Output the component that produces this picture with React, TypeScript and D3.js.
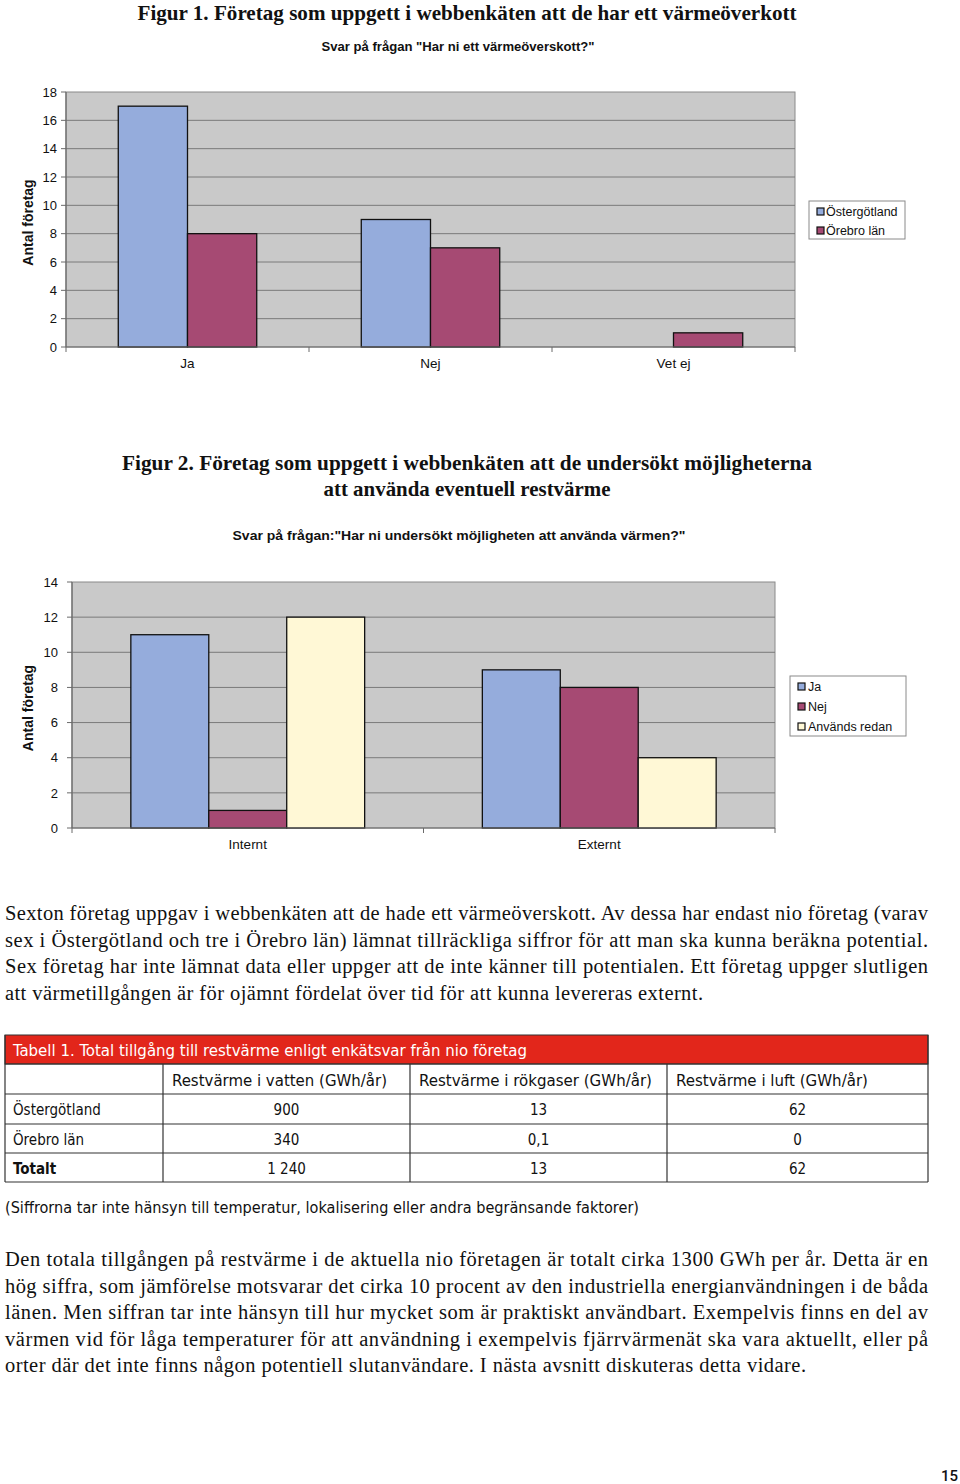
import React from "react";
import * as d3 from "d3";

// ---------- Data ----------
const fig1Title = "Figur 1. Företag som uppgett i webbenkäten att de har ett värmeöverkott";
const fig1Subtitle = 'Svar på frågan "Har ni ett värmeöverskott?"';
const fig1Categories = ["Ja", "Nej", "Vet ej"];
const fig1Series = ["Östergötland", "Örebro län"];
const fig1Ostergotland = [17, 9, 0];
const fig1Orebro = [8, 7, 1];
const fig1Ticks = [0, 2, 4, 6, 8, 10, 12, 14, 16, 18];

const fig2TitleLines = [
  "Figur 2. Företag som uppgett i webbenkäten att de undersökt möjligheterna",
  "att använda eventuell restvärme",
];
const fig2Subtitle = 'Svar på frågan:"Har ni undersökt möjligheten att använda värmen?"';
const fig2Categories = ["Internt", "Externt"];
const fig2Series = ["Ja", "Nej", "Används redan"];
const fig2Ja = [11, 9];
const fig2Nej = [1, 8];
const fig2Anvands = [12, 4];
const fig2Ticks = [0, 2, 4, 6, 8, 10, 12, 14];

const yAxisLabel = "Antal företag";

const para1 = [
  "Sexton företag uppgav i webbenkäten att de hade ett värmeöverskott. Av dessa har endast nio företag (varav",
  "sex i Östergötland och tre i Örebro län) lämnat tillräckliga siffror för att man ska kunna beräkna potential.",
  "Sex företag har inte lämnat data eller uppger att de inte känner till potentialen. Ett företag uppger slutligen",
  "att värmetillgången är för ojämnt fördelat över tid för att kunna levereras externt.",
];

const tableTitle = "Tabell 1. Total tillgång till restvärme enligt enkätsvar från nio företag";
const tableColumns = ["Restvärme i vatten (GWh/år)", "Restvärme i rökgaser (GWh/år)", "Restvärme i luft (GWh/år)"];
const tableRowLabels = ["Östergötland", "Örebro län", "Totalt"];
const tableVatten = ["900", "340", "1 240"];
const tableRokgaser = ["13", "0,1", "13"];
const tableLuft = ["62", "0", "62"];
const tableNote = "(Siffrorna tar inte hänsyn till temperatur, lokalisering eller andra begränsande faktorer)";

const para2 = [
  "Den totala tillgången på restvärme i de aktuella nio företagen är totalt cirka 1300 GWh per år. Detta är en",
  "hög siffra, som jämförelse motsvarar det cirka 10 procent av den industriella energianvändningen i de båda",
  "länen. Men siffran tar inte hänsyn till hur mycket som är praktiskt användbart. Exempelvis finns en del av",
  "värmen vid för låga temperaturer för att användning i exempelvis fjärrvärmenät ska vara aktuellt, eller på",
  "orter där det inte finns någon potentiell slutanvändare. I nästa avsnitt diskuteras detta vidare.",
];
const pageNumber = "15";

// ---------- Styles ----------
const BLUE = "#95acdc";
const PLUM = "#a64a73";
const CREAM = "#fff8d6";
const PLOT_BG = "#c9c9c9";
const GRID = "#7a7a7a";
const RED = "#e2261b";
const SANS = "'Liberation Sans', Arial, sans-serif";
const SERIF = "'Liberation Serif', 'Times New Roman', serif";
const COND = "'DejaVu Sans Condensed', 'Liberation Sans Narrow', sans-serif";

type ChartProps = {
  left: number; right: number; top: number; bottom: number;
  categories: string[];
  series: string[];
  values: number[][];
  colors: string[];
  ticks: number[];
  tickLabelX: number;
  yLabelX: number;
  legend: { x: number; y: number; w: number; h: number; swX: number; textX: number; rowY: number[] };
};

function BarChart(p: ChartProps) {
  const yMax = p.ticks[p.ticks.length - 1];
  const y = d3.scaleLinear().domain([0, yMax]).range([p.bottom, p.top]);
  const x0 = d3.scaleBand<string>().domain(p.categories).range([p.left, p.right]).padding(0);
  const x1 = d3.scaleBand<string>().domain(p.series).range([0, x0.bandwidth()]).paddingInner(0).paddingOuter(0.755);
  const catEdges = p.categories.map((c) => x0(c)!).concat([p.right]);
  return (
    <g>
      <rect x={p.left} y={p.top} width={p.right - p.left} height={p.bottom - p.top} fill={PLOT_BG} stroke="#8a8a8a" strokeWidth={1} />
      {p.ticks.map((t) => (
        <g key={t}>
          {t > 0 && t < yMax && <line x1={p.left} x2={p.right} y1={y(t)} y2={y(t)} stroke={GRID} strokeWidth={1} />}
          <line x1={p.left - 5} x2={p.left} y1={y(t)} y2={y(t)} stroke="#6a6a6a" strokeWidth={1} />
          <text x={p.tickLabelX} y={y(t)} dy="0.36em" textAnchor="end" fontFamily={SANS} fontSize={13} fill="#111">{t}</text>
        </g>
      ))}
      <line x1={p.left} x2={p.left} y1={p.top} y2={p.bottom} stroke="#6a6a6a" strokeWidth={1.2} />
      {p.series.map((s, si) =>
        p.categories.map((c, ci) => {
          const v = p.values[si][ci];
          if (v <= 0) return null;
          const bx = x0(c)! + x1(s)!;
          return (
            <rect key={s + c} x={bx} y={y(v)} width={x1.bandwidth()} height={y(0) - y(v)}
              fill={p.colors[si]} stroke="#111" strokeWidth={1.3} />
          );
        })
      )}
      <line x1={p.left} x2={p.right} y1={p.bottom} y2={p.bottom} stroke="#6a6a6a" strokeWidth={1.2} />
      {catEdges.map((e, i) => (
        <line key={i} x1={e} x2={e} y1={p.bottom} y2={p.bottom + 5} stroke="#6a6a6a" strokeWidth={1} />
      ))}
      {p.categories.map((c) => (
        <text key={c} x={x0(c)! + x0.bandwidth() / 2} y={p.bottom + 21} textAnchor="middle" fontFamily={SANS} fontSize={13.5} fill="#111">{c}</text>
      ))}
      <text transform={`translate(${p.yLabelX},${(p.top + p.bottom) / 2 + 3}) rotate(-90)`} textAnchor="middle"
        fontFamily={SANS} fontWeight="bold" fontSize={14} fill="#111">{yAxisLabel}</text>
      <rect x={p.legend.x} y={p.legend.y} width={p.legend.w} height={p.legend.h} fill="#fff" stroke="#8a8a8a" strokeWidth={1} />
      {p.series.map((s, si) => (
        <g key={s}>
          <rect x={p.legend.swX} y={p.legend.rowY[si] - 8} width={7} height={7} fill={p.colors[si]} stroke="#111" strokeWidth={1.2} />
          <text x={p.legend.textX} y={p.legend.rowY[si]} fontFamily={SANS} fontSize={12.5} fill="#111">{s}</text>
        </g>
      ))}
    </g>
  );
}

function Justified({ lines, x, y0, lh, width, lastFree }: { lines: string[]; x: number; y0: number; lh: number; width: number; lastFree: number }) {
  return (
    <g>
      {lines.map((l, i) => {
        const last = i === lines.length - 1;
        return (
          <text key={i} x={x} y={y0 + i * lh} fontFamily={SERIF} fontSize={20.5} fill="#111"
            textLength={last ? lastFree : width} lengthAdjust="spacing">{l}</text>
        );
      })}
    </g>
  );
}

export default function App() {
  const colX = [5, 163, 410, 667, 928];
  const rowY = [1064, 1094, 1124, 1153, 1182];
  const colData = [tableVatten, tableRokgaser, tableLuft];
  const headerWidths = [215, 233, 192];
  return (
    <svg width={960} height={1484} style={{ position: "absolute", left: 0, top: 0, display: "block", background: "#fff" }}>
      {/* Figure 1 */}
      <text x={467} y={20} textAnchor="middle" fontFamily={SERIF} fontWeight="bold" fontSize={21} fill="#111"
        textLength={659} lengthAdjust="spacingAndGlyphs">{fig1Title}</text>
      <text x={458} y={51} textAnchor="middle" fontFamily={SANS} fontWeight="bold" fontSize={13} fill="#111"
        textLength={273} lengthAdjust="spacingAndGlyphs">{fig1Subtitle}</text>
      <BarChart left={66} right={795} top={92} bottom={347}
        categories={fig1Categories} series={fig1Series}
        values={[fig1Ostergotland, fig1Orebro]} colors={[BLUE, PLUM]}
        ticks={fig1Ticks} tickLabelX={57} yLabelX={33}
        legend={{ x: 809, y: 201, w: 96, h: 38, swX: 817, textX: 826, rowY: [216, 235] }} />

      {/* Figure 2 */}
      <text x={467} y={470} textAnchor="middle" fontFamily={SERIF} fontWeight="bold" fontSize={21} fill="#111"
        textLength={690} lengthAdjust="spacingAndGlyphs">{fig2TitleLines[0]}</text>
      <text x={467} y={496} textAnchor="middle" fontFamily={SERIF} fontWeight="bold" fontSize={21} fill="#111"
        textLength={287} lengthAdjust="spacingAndGlyphs">{fig2TitleLines[1]}</text>
      <text x={459} y={540} textAnchor="middle" fontFamily={SANS} fontWeight="bold" fontSize={13} fill="#111"
        textLength={453} lengthAdjust="spacingAndGlyphs">{fig2Subtitle}</text>
      <BarChart left={72} right={775} top={582} bottom={828}
        categories={fig2Categories} series={fig2Series}
        values={[fig2Ja, fig2Nej, fig2Anvands]} colors={[BLUE, PLUM, CREAM]}
        ticks={fig2Ticks} tickLabelX={58} yLabelX={33}
        legend={{ x: 790, y: 676, w: 116, h: 60, swX: 798, textX: 808, rowY: [691, 711, 731] }} />

      {/* Paragraph 1 */}
      <Justified lines={para1} x={5} y0={920} lh={26.5} width={923} lastFree={698} />

      {/* Table */}
      <rect x={5} y={1035} width={923} height={29} fill={RED} stroke="#333" strokeWidth={1} />
      <text x={13} y={1056} fontFamily={COND} fontSize={15} fill="#fff" textLength={514} lengthAdjust="spacingAndGlyphs">{tableTitle}</text>
      {rowY.map((ry, i) => (
        <line key={"h" + i} x1={5} x2={928} y1={ry} y2={ry} stroke="#333" strokeWidth={1.2} />
      ))}
      {colX.map((cx, i) => (
        <line key={"v" + i} x1={cx} x2={cx} y1={i === 0 || i === 4 ? 1035 : 1064} y2={1182} stroke="#333" strokeWidth={1.2} />
      ))}
      {tableColumns.map((c, i) => (
        <text key={c} x={colX[i + 1] + 9} y={1086} fontFamily={COND} fontSize={15} fill="#111"
          textLength={headerWidths[i]} lengthAdjust="spacingAndGlyphs">{c}</text>
      ))}
      {tableRowLabels.map((r, ri) => (
        <g key={r}>
          <text x={13} y={rowY[ri + 1] + 21} fontFamily={COND} fontSize={15} fontWeight={ri === 2 ? "bold" : "normal"} fill="#111">{r}</text>
          {colData.map((col, ci) => (
            <text key={ci} x={(colX[ci + 1] + colX[ci + 2]) / 2} y={rowY[ri + 1] + 21} textAnchor="middle"
              fontFamily={COND} fontSize={15} fill="#111">{col[ri]}</text>
          ))}
        </g>
      ))}
      <text x={5} y={1213} fontFamily={COND} fontSize={15} fill="#111" textLength={634} lengthAdjust="spacingAndGlyphs">{tableNote}</text>

      {/* Paragraph 2 */}
      <Justified lines={para2} x={5} y0={1266} lh={26.5} width={923} lastFree={801} />

      <text x={958} y={1481} textAnchor="end" fontFamily="Roboto, sans-serif" fontWeight={500} fontSize={15} fill="#111">{pageNumber}</text>
    </svg>
  );
}
